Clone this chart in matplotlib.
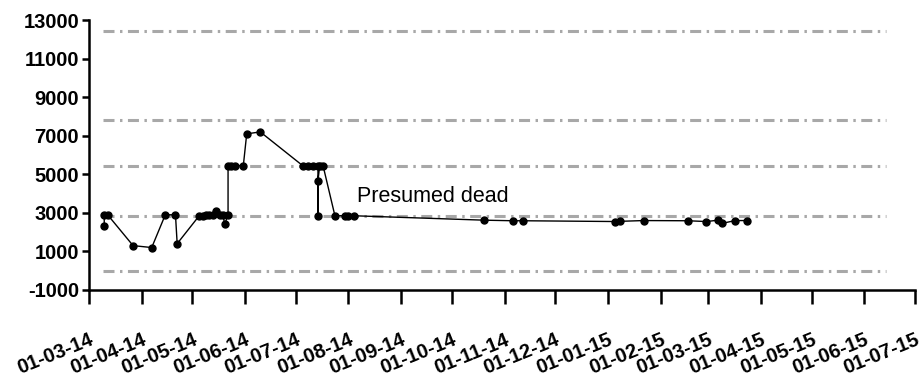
import numpy as np
import pandas as pd
import matplotlib
matplotlib.use("Agg")
import matplotlib.pyplot as plt
import matplotlib.dates as mdates

plt.rcParams['font.family'] = ['Liberation Sans', 'DejaVu Sans']

# tracked values over time
dates = pd.to_datetime([
    "2014-03-10", "2014-03-10", "2014-03-12", "2014-03-27", "2014-04-07",
    "2014-04-15", "2014-04-21", "2014-04-22", "2014-05-05", "2014-05-07",
    "2014-05-09", "2014-05-11", "2014-05-13", "2014-05-15", "2014-05-17",
    "2014-05-19", "2014-05-20", "2014-05-22", "2014-05-22", "2014-05-24",
    "2014-05-26", "2014-05-31", "2014-06-02", "2014-06-10", "2014-07-05",
    "2014-07-08", "2014-07-11", "2014-07-14", "2014-07-14", "2014-07-14",
    "2014-07-15", "2014-07-17", "2014-07-24", "2014-07-30", "2014-08-01",
    "2014-08-04", "2014-10-20", "2014-11-06", "2014-11-12", "2015-01-05",
    "2015-01-08", "2015-01-22", "2015-02-17", "2015-02-28", "2015-03-07",
    "2015-03-09", "2015-03-17", "2015-03-24",
])
values = [
    2300, 2900, 2900, 1300, 1200,
    2900, 2900, 1400, 2850, 2850,
    2900, 2900, 2900, 3100, 2900,
    2900, 2400, 2900, 5450, 5450,
    5450, 5450, 7100, 7200, 5450,
    5450, 5450, 5450, 2850, 4650,
    5450, 5450, 2850, 2850, 2850,
    2850, 2620, 2590, 2590, 2550,
    2560, 2600, 2590, 2550, 2620,
    2450, 2600, 2600,
]

ref_levels = [0, 2850, 5450, 7800, 12450]
yticks = np.arange(-1000, 13001, 2000)
xticks = pd.date_range("2014-03-01", "2015-07-01", freq="MS")

fig = plt.figure(figsize=(9.21, 3.8), dpi=100)
ax = fig.add_axes([0.0966, 0.237, 0.8969, 0.71])

x0 = mdates.date2num(pd.Timestamp("2014-03-01"))
x1 = mdates.date2num(pd.Timestamp("2015-07-01"))
ax.set_xlim(x0, x1)
ax.set_ylim(-1000, 13000)

# dash-dot reference lines
g0 = mdates.date2num(pd.Timestamp("2014-03-09"))
g1 = mdates.date2num(pd.Timestamp("2015-06-14"))
for lv in ref_levels:
    ax.plot([g0, g1], [lv, lv], color="#a8a8a8", lw=2.2,
            dashes=(3.6, 1.8, 0.8, 1.8), zorder=1)

ax.plot(mdates.date2num(dates), values, color="black", lw=1.0,
        marker="o", ms=5, zorder=3)

ax.text(mdates.date2num(pd.Timestamp("2014-08-06")), 3860, "Presumed dead",
        fontsize=15.5, ha="left", va="center")

ax.spines["top"].set_visible(False)
ax.spines["right"].set_visible(False)
ax.spines["left"].set_linewidth(1.8)
ax.spines["bottom"].set_linewidth(1.8)

ax.set_yticks(yticks)
ax.set_yticklabels([str(v) for v in yticks], fontsize=14.5, fontweight="bold")
ax.tick_params(axis="y", length=5, width=1.8, pad=2)

ax.set_xticks(mdates.date2num(xticks))
ax.set_xticklabels([d.strftime("%d-%m-%y") for d in xticks], fontsize=14.5,
                   fontweight="bold", rotation=22, ha="right",
                   rotation_mode="anchor")
ax.tick_params(axis="x", length=10, width=1.8, pad=19)

fig.savefig("out.png", dpi=100)
